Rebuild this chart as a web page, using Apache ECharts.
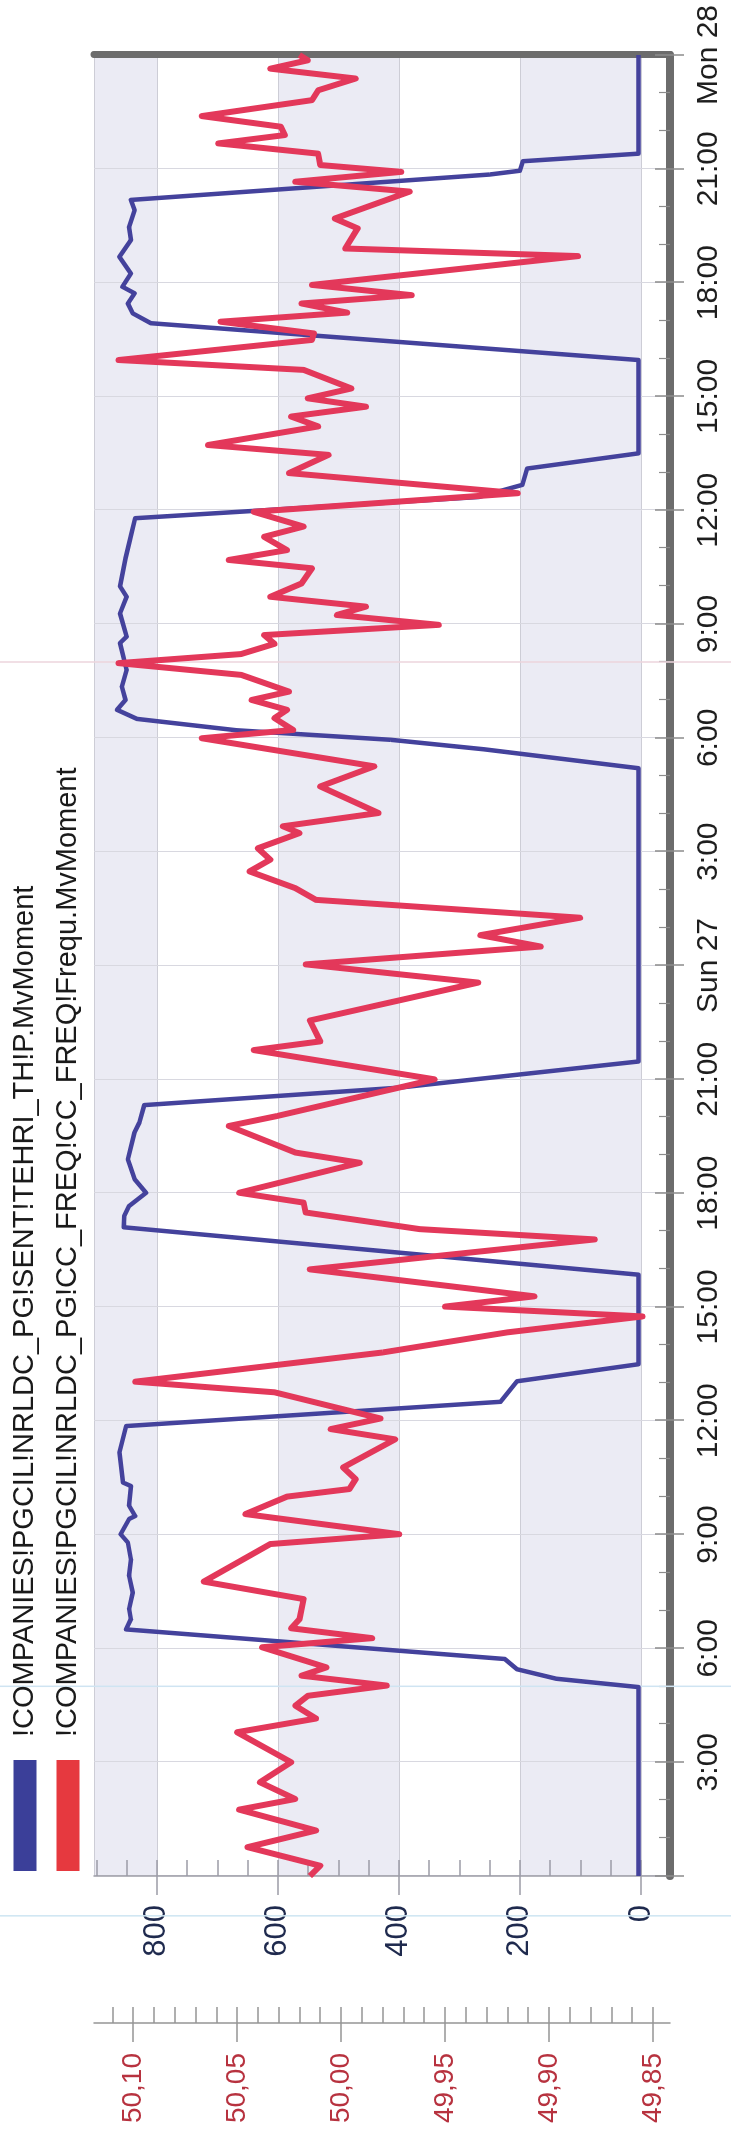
<!DOCTYPE html>
<html>
<head>
<meta charset="utf-8">
<script src="https://cdn.jsdelivr.net/npm/echarts@6/dist/echarts.min.js"></script>
<style>
  html, body { margin: 0; padding: 0; background: #ffffff; width: 731px; height: 2139px; overflow: hidden; }
  /* trend is laid out landscape and turned a quarter turn counter-clockwise */
  #chart { position: absolute; left: 0; top: 0; width: 2139px; height: 731px;
           transform-origin: 0 0; transform: translateY(2139px) rotate(-90deg); }
</style>
</head>
<body>
<div id="chart"></div>
<script>
// Tag names shown in the legend
const tagNames = [
  '!COMPANIES!PGCIL!NRLDC_PG!SENT!TEHRI_TH!P.MvMoment',
  '!COMPANIES!PGCIL!NRLDC_PG!CC_FREQ!CC_FREQ!Frequ.MvMoment'
];

// Hours since Sat 26 00:00 and the TEHRI sent-out MW at those moments
const mwHours = [0, 4.98, 5.2, 5.45, 5.72, 6.5, 6.77, 7.04, 7.47, 7.91,
  8.35, 8.79, 9.01, 9.41, 9.49, 9.76, 10.28, 10.37, 11.16, 11.86,
  12.5, 13.04, 13.49, 15.85, 17.1, 17.4, 17.66, 18.01, 18.37, 18.89,
  19.6, 19.86, 20.32, 20.78, 21.47, 29.2, 29.7, 29.95, 30.2, 30.5,
  30.74, 31.0, 31.35, 31.79, 32.5, 32.67, 33.28, 33.72, 33.99, 34.73,
  35.2, 35.79, 36.35, 36.67, 37.1, 37.5, 39.96, 40.93, 41.19, 41.45,
  41.72, 41.89, 42.24, 42.68, 43.12, 43.47, 43.91, 44.18, 44.85, 44.95,
  45.2, 45.4, 48];
const mwValues = [4, 4, 140, 205, 225, 851, 843, 846, 840, 846,
  843, 848, 860, 846, 836, 846, 843, 856, 862, 851,
  232, 205, 4, 4, 855, 854, 846, 818, 837, 848,
  837, 829, 821, 400, 4, 4, 260, 414, 668, 833,
  866, 852, 858, 850, 861, 850, 861, 850, 861, 852,
  845, 836, 268, 196, 188, 4, 4, 810, 840, 848,
  837, 857, 843, 862, 843, 846, 837, 843, 250, 200,
  195, 4, 4];

// Hours since Sat 26 00:00 and grid frequency (Hz)
const freqHours = [0, 0.27, 0.76, 1.2, 1.75, 2.03, 2.47, 3.0, 3.79, 4.15,
  4.49, 4.75, 5.02, 5.28, 5.5, 6.03, 6.27, 6.53, 6.77, 7.3,
  7.76, 8.75, 9.01, 9.54, 10.0, 10.2, 10.46, 10.77, 11.51, 11.78,
  12.06, 12.75, 13.03, 13.8, 14.33, 14.75, 15.01, 15.28, 15.99, 16.78,
  17.05, 17.49, 17.75, 18.01, 18.8, 19.07, 19.77, 20.03, 21.0, 21.77,
  22.0, 22.55, 23.55, 24.03, 24.5, 24.8, 25.26, 25.73, 26.04, 26.48,
  26.79, 27.09, 27.49, 27.67, 28.02, 28.72, 29.25, 29.99, 30.21, 30.52,
  30.74, 31.0, 31.22, 31.66, 31.97, 32.21, 32.48, 32.71, 32.98, 33.24,
  33.46, 33.72, 34.07, 34.47, 34.69, 34.95, 35.3, 35.57, 35.96, 36.45,
  36.98, 37.46, 37.72, 38.21, 38.47, 38.73, 38.95, 39.21, 39.7, 39.96,
  40.49, 40.66, 40.97, 41.21, 41.45, 41.67, 41.94, 42.7, 42.9, 43.43,
  43.69, 44.4, 44.66, 44.92, 45.1, 45.4, 45.67, 45.89, 46.11, 46.39,
  46.81, 47.07, 47.38, 47.64, 47.86, 48.0];
const freqValues = [50.015, 50.010, 50.045, 50.012, 50.049, 50.022, 50.039, 50.024, 50.050, 50.012,
  50.022, 50.016, 49.978, 50.019, 50.007, 50.038, 49.985, 50.024, 50.020, 50.018,
  50.066, 50.034, 49.972, 50.046, 50.026, 49.996, 49.993, 49.999, 49.974, 50.005,
  49.981, 50.032, 50.099, 49.980, 49.920, 49.855, 49.950, 49.907, 50.015, 49.878,
  49.962, 50.017, 50.018, 50.049, 49.991, 50.022, 50.054, 50.031, 49.955, 50.042,
  50.010, 50.015, 49.934, 50.017, 49.904, 49.933, 49.885, 50.012, 50.022, 50.044,
  50.034, 50.040, 50.020, 50.028, 49.982, 50.010, 49.984, 50.067, 50.023, 50.032,
  50.026, 50.043, 50.025, 50.048, 50.107, 50.048, 50.032, 50.037, 49.953, 50.002,
  49.988, 50.034, 50.019, 50.014, 50.054, 50.026, 50.037, 50.018, 50.042, 49.915,
  50.025, 50.006, 50.064, 50.011, 50.024, 49.988, 50.016, 49.995, 50.018, 50.107,
  50.014, 50.013, 50.058, 49.997, 50.019, 49.966, 50.014, 49.886, 49.998, 49.992,
  50.003, 49.967, 50.022, 49.971, 50.010, 50.011, 50.059, 50.027, 50.029, 50.067,
  50.014, 50.011, 49.993, 50.034, 50.016, 50.020];

// Axis ticks and labels
const mwTicks = [0, 200, 400, 600, 800];
const freqTicks = [49.85, 49.90, 49.95, 50.00, 50.05, 50.10];
const dayNames = { 24: 'Sun 27', 48: 'Mon 28' };
// Trend cursors (hours since Sat 26 00:00)
const cursors = [
  { hour: -1.05, color: '#cde5f2' },
  { hour: 5, color: '#cfe4f2' },
  { hour: 32, color: '#ecd5dc' }
];

const FONT = 'Liberation Sans, Arial, sans-serif';
const mwRange = { min: -48, max: 904 };
const freqRange = { min: 49.8418, max: 50.1188 };

function zip(xs, ys) { return xs.map((x, i) => [x, ys[i]]); }
function timeLabel(v) {
  if (v === 0) return '';
  if (v % 24 === 0) return dayNames[v];
  return (v % 24) + ':00';
}

const hidden = { show: false };
const baseX = { type: 'value', gridIndex: 0, position: 'bottom', min: 0, max: 48, interval: 3 };

const option = {
  animation: false,
  backgroundColor: '#ffffff',
  textStyle: { fontFamily: FONT },
  grid: { left: 263, top: 94, width: 1821, height: 576, containLabel: false },
  legend: {
    orient: 'vertical', left: 263, top: 5, icon: 'rect',
    itemWidth: 111, itemHeight: 23, itemGap: 13,
    textStyle: { fontSize: 29, color: '#1a1a1a', fontFamily: FONT, lineHeight: 30, padding: [0, 0, 0, 18] },
    data: [
      { name: tagNames[0], itemStyle: { color: '#3b3f99' } },
      { name: tagNames[1], itemStyle: { color: '#e6393f' } }
    ]
  },
  xAxis: [
    Object.assign({}, baseX, {
      axisLine: { show: true, onZero: false, lineStyle: { color: '#6c6c6c', width: 8 } },
      axisTick: { show: true, inside: false, length: 14, lineStyle: { color: '#8c8c8c', width: 1.5 } },
      axisLabel: { show: true, margin: 24, fontSize: 30, color: '#1e1e1e', fontFamily: FONT, formatter: timeLabel },
      splitLine: { show: true, lineStyle: { color: '#d8d8e0', width: 1 } },
      minorTick: hidden
    }),
    Object.assign({}, baseX, {
      axisLine: { show: false, onZero: false },
      axisTick: { show: true, inside: true, length: 15, lineStyle: { color: '#8c8c8c', width: 1.5 } },
      minorTick: { show: true, splitNumber: 3, length: 11, lineStyle: { color: '#8c8c8c', width: 1.2 } },
      axisLabel: hidden, splitLine: hidden
    })
  ],
  yAxis: [
    // MW axis: bands, split lines and axis line
    Object.assign({ type: 'value', position: 'left' }, mwRange, {
      axisLine: { show: true, onZero: false, lineStyle: { color: '#9c9ca6', width: 1.5 } },
      axisTick: hidden, axisLabel: hidden,
      splitLine: { show: true, lineStyle: { color: '#cdcdd6', width: 1 } },
      splitArea: { show: true, areaStyle: { color: ['#ffffff', '#ebebf4'] } }
    }),
    // MW axis: labels and outward ticks
    Object.assign({ type: 'value', position: 'left' }, mwRange, {
      axisLine: { show: false, onZero: false },
      axisTick: { show: true, length: 19, customValues: mwTicks, lineStyle: { color: '#9c9ca6', width: 1.5 } },
      axisLabel: { show: true, customValues: mwTicks, margin: 29, fontSize: 31, color: '#1f2a4e', fontFamily: FONT },
      splitLine: hidden
    }),
    // MW axis: inward ticks
    Object.assign({ type: 'value', position: 'left' }, mwRange, {
      axisLine: { show: false, onZero: false },
      axisTick: { show: true, inside: true, length: 16, customValues: mwTicks, lineStyle: { color: '#9c9ca6', width: 1.5 } },
      minorTick: { show: true, splitNumber: 4, length: 16, lineStyle: { color: '#9c9ca6', width: 1.5 } },
      axisLabel: hidden, splitLine: hidden
    }),
    // Frequency axis: line, labels and outward ticks
    Object.assign({ type: 'value', position: 'left', offset: 147 }, freqRange, {
      axisLine: { show: true, onZero: false, lineStyle: { color: '#959595', width: 1.5 } },
      axisTick: { show: true, length: 19, customValues: freqTicks, lineStyle: { color: '#959595', width: 1.5 } },
      axisLabel: { show: true, customValues: freqTicks, margin: 30, fontSize: 28, color: '#b7323f', fontFamily: FONT,
                   formatter: v => v.toFixed(2).replace('.', ',') },
      splitLine: hidden
    }),
    // Frequency axis: inward ticks
    Object.assign({ type: 'value', position: 'left', offset: 147 }, freqRange, {
      axisLine: { show: false, onZero: false },
      axisTick: { show: true, inside: true, length: 16, customValues: freqTicks, lineStyle: { color: '#959595', width: 1.5 } },
      minorTick: { show: true, splitNumber: 5, length: 16, lineStyle: { color: '#959595', width: 1.5 } },
      axisLabel: hidden, splitLine: hidden
    }),
    // heavy frame at the end of the trend
    Object.assign({ type: 'value', position: 'right' }, mwRange, {
      axisLine: { show: true, onZero: false, lineStyle: { color: '#6c6c6c', width: 7 } },
      axisTick: hidden, axisLabel: hidden, splitLine: hidden
    })
  ],
  series: [
    {
      name: tagNames[0], type: 'line', xAxisIndex: 0, yAxisIndex: 0,
      data: zip(mwHours, mwValues), symbol: 'none', z: 3,
      lineStyle: { color: '#44429c', width: 4.5, join: 'round' }, itemStyle: { color: '#3b3f99' }
    },
    {
      name: tagNames[1], type: 'line', xAxisIndex: 0, yAxisIndex: 3,
      data: zip(freqHours, freqValues), symbol: 'none', z: 4,
      lineStyle: { color: '#e3385a', width: 6, join: 'round' }, itemStyle: { color: '#e6393f' }
    }
  ]
};

const chart = echarts.init(document.getElementById('chart'), null, { renderer: 'canvas', width: 2139, height: 731 });
chart.setOption(option);

// cursor hairlines across the whole trend, placed through the time axis
chart.setOption({
  graphic: cursors.map(c => {
    const px = chart.convertToPixel({ xAxisIndex: 0 }, c.hour);
    return { type: 'line', z: 1, silent: true,
             shape: { x1: px, y1: 0, x2: px, y2: 731 },
             style: { stroke: c.color, lineWidth: 1.5 } };
  })
});
</script>
</body>
</html>
